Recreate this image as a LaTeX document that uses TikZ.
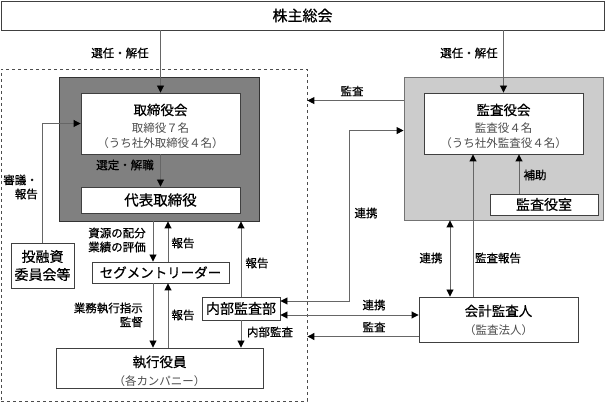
\documentclass[tikz,border=0pt]{standalone}
\usepackage{fontspec}
\setmainfont{Noto Sans CJK JP}
\newfontfamily\bfj{Noto Sans CJK JP}[FakeBold=0.6]
\usetikzlibrary{arrows.meta}
\begin{document}
\begin{tikzpicture}[x=1pt,y=-1pt,
  bx/.style={draw=black!75,line width=0.9pt,fill=white,inner sep=0pt,align=center},
  lbl/.style={font=\bfj\fontsize{11.5}{14}\selectfont,inner sep=0pt,align=center},
  sub/.style={font=\fontsize{11.5}{14}\selectfont,text=black!70,inner sep=0pt},
  ttl/.style={font=\bfj\fontsize{13.5}{16}\selectfont,inner sep=0pt},
  ln/.style={draw=black!60,line width=0.9pt},
  tip/.tip={Triangle[length=7pt,width=7pt,black]},
  arr/.style={ln,-tip},
  darr/.style={ln,tip-tip}
]
\useasboundingbox (0,0) rectangle (606,403);
% containers
\node[draw=black!70,dashed,line width=0.8pt,minimum width=306pt,minimum height=332pt,inner sep=0pt] (dash) at (154,235) {};
\node[draw=black!80,fill=black!50,line width=0.9pt,minimum width=200pt,minimum height=144pt,inner sep=0pt] (dark) at (159,149) {};
\node[draw=black!55,fill=black!20,line width=0.9pt,minimum width=199pt,minimum height=143pt,inner sep=0pt] (lg) at (503.5,148.5) {};
% boxes
\node[bx,minimum width=603pt,minimum height=29pt,font=\bfj\fontsize{15}{18}\selectfont] (kabu) at (302.5,15.5) {株主総会};
\node[bx,minimum width=159pt,minimum height=61pt] (tori) at (160.5,123.5) {};
\node[ttl] (toriT) at (160.5,110) {取締役会};
\node[sub] (toriA) at (160.5,128) {取締役７名};
\node[sub] (toriB) at (160.5,143) {（うち社外取締役４名）};
\node[bx,minimum width=159pt,minimum height=26pt,font=\bfj\fontsize{14.5}{17}\selectfont] (dai) at (160.5,200) {代表取締役};
\node[bx,minimum width=159pt,minimum height=61pt] (kan) at (503.5,123.5) {};
\node[ttl] (kanT) at (503.5,110) {監査役会};
\node[sub] (kanA) at (503.5,128) {監査役４名};
\node[sub] (kanB) at (503.5,143) {（うち社外監査役４名）};
\node[bx,minimum width=108pt,minimum height=21pt,font=\bfj\fontsize{14}{17}\selectfont] (shitsu) at (544,204.5) {監査役室};
\node[bx,minimum width=63pt,minimum height=45pt,font=\bfj\fontsize{14}{18}\selectfont] (toy) at (42.5,265.5) {投融資\\委員会等};
\node[bx,minimum width=137pt,minimum height=21pt,font=\bfj\fontsize{13.5}{16}\selectfont] (seg) at (160.5,272.5) {セグメントリーダー};
\node[bx,minimum width=78pt,minimum height=23pt,font=\bfj\fontsize{14}{17}\selectfont] (naibu) at (241,308.5) {内部監査部};
\node[bx,minimum width=207pt,minimum height=40pt] (shikko) at (159.5,368) {};
\node[ttl] (shikkoT) at (159.5,362) {執行役員};
\node[sub] (shikkoB) at (159.5,381) {（各カンパニー）};
\node[bx,minimum width=159pt,minimum height=45pt] (kaikei) at (498.5,319.5) {};
\node[ttl] (kaikeiT) at (498.5,311) {会計監査人};
\node[sub] (kaikeiB) at (498.5,330) {（監査法人）};
% connectors
\draw[arr] (tori.north |- kabu.south) -- (tori.north);
\draw[arr] (kan.north |- kabu.south) -- (kan.north);
\draw[arr] ([yshift=-24pt]lg.north west) -- ([yshift=-24pt]lg.north west -| dash.east);
\draw[arr] (toy.north) |- (tori.west);
\draw[arr] (tori.south) -- (dai.north);
\draw[arr] ([xshift=-7.5pt]seg.north |- dark.south) -- ([xshift=-7.5pt]seg.north);
\draw[arr] ([xshift=7.5pt]seg.north) -- ([xshift=7.5pt]seg.north |- dark.south);
\draw[arr] (naibu.north) -- (naibu.north |- dark.south);
\draw[arr] ([xshift=-7.5pt]seg.south) -- ([xshift=-7.5pt]seg.south |- shikko.north);
\draw[arr] ([xshift=7.5pt]seg.south |- shikko.north) -- ([xshift=7.5pt]seg.south);
\draw[arr] (naibu.south) -- (naibu.south |- shikko.north);
\draw[darr] ([yshift=7.5pt]naibu.east) -- ++(69pt,0) |- ([yshift=-54pt]lg.north west);
\draw[darr] ([yshift=-6.5pt]naibu.east) -- ([yshift=-6.5pt]naibu.east -| kaikei.west);
\draw[arr] ([yshift=-17pt]kaikei.west) -- ([yshift=-17pt]kaikei.west -| dash.east);
\draw[darr] ([xshift=-48.5pt]kaikei.north) -- ([xshift=-48.5pt]kaikei.north |- lg.south);
\draw[arr] ([xshift=-25.5pt]kaikei.north) -- ([xshift=-25.5pt]kaikei.north |- kan.south);
\draw[arr] ([xshift=-25pt]shitsu.north) -- ([xshift=-25pt]shitsu.north |- kan.south);
% labels
\node[lbl] (l1) at (120,53) {選任・解任};
\node[lbl] (l2) at (469,53) {選任・解任};
\node[lbl] (l3) at (352,91) {監査};
\node[lbl,align=right,anchor=east] (l4) at (38,187) {審議・\\報告};
\node[lbl] (l5) at (125,165) {選定・解職};
\node[lbl,align=left] (l6) at (117,240) {資源の配分\\業績の評価};
\node[lbl] (l7) at (183,243) {報告};
\node[lbl] (l8) at (257,263) {報告};
\node[lbl,align=right,anchor=east] (l9) at (143,315) {業務執行指示\\監督};
\node[lbl] (l10) at (183,315) {報告};
\node[lbl] (l11) at (270,332) {内部監査};
\node[lbl] (l12) at (366,213) {連携};
\node[lbl] (l13) at (374,305) {連携};
\node[lbl] (l14) at (374,327) {監査};
\node[lbl] (l15) at (431,258) {連携};
\node[lbl] (l16) at (498,258) {監査報告};
\node[lbl] (l17) at (535,175) {補助};
\end{tikzpicture}
\end{document}
